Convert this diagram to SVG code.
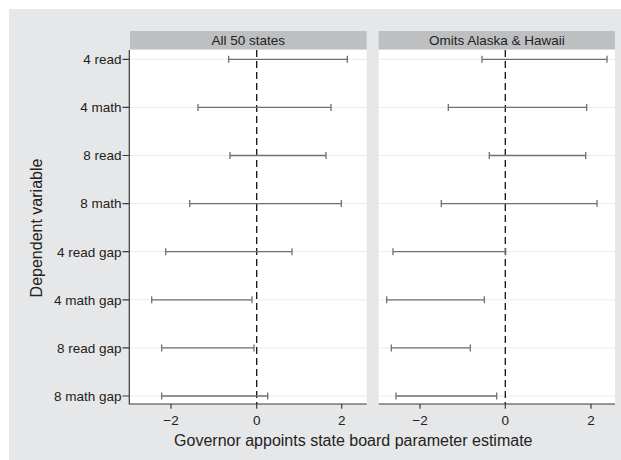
<svg xmlns="http://www.w3.org/2000/svg" width="621" height="460" viewBox="0 0 621 460">
<style>
text{font-family:"Liberation Sans",Arial,sans-serif;fill:#222}
.tl{font-size:13.5px;text-anchor:end}
.xl{font-size:13.5px;text-anchor:middle}
.hd{font-size:13.5px;text-anchor:middle}
.ttl{font-size:16px;text-anchor:middle}
.grid{stroke:#ebebeb;stroke-width:1;fill:none}
.bar{stroke:#707070;stroke-width:1.3;fill:none}
.axis{stroke:#3a3a3a;stroke-width:1.2;fill:none}
.zero{stroke:#111;stroke-width:1.3;stroke-dasharray:7 4;fill:none}
.hdr{fill:#bebfc1}
.plot{fill:#fff}
</style>
<rect x="9" y="9" width="612" height="451" fill="#e6e7e8"/>

<g id="panel-all50">
<rect class="hdr" x="130" y="31" width="236.7" height="18.3"/>
<text class="hd" x="248.3" y="45">All 50 states</text>
<rect class="plot" x="129.3" y="50" width="237.4" height="354"/>
<path class="grid" d="M130 59.3H366.7M130 107.4H366.7M130 155.5H366.7M130 203.6H366.7M130 251.7H366.7M130 299.8H366.7M130 347.9H366.7M130 396H366.7"/>
</g>

<g id="panel-omits">
<rect class="hdr" x="378.7" y="31" width="236.3" height="18.3"/>
<text class="hd" x="496.8" y="45">Omits Alaska &amp; Hawaii</text>
<rect class="plot" x="378.7" y="50" width="236.3" height="354"/>
<path class="grid" d="M378.7 59.3H615M378.7 107.4H615M378.7 155.5H615M378.7 203.6H615M378.7 251.7H615M378.7 299.8H615M378.7 347.9H615M378.7 396H615"/>
</g>

<g id="zero-lines">
<path class="zero" d="M256.7 50V404M505.3 50V404"/>
</g>

<g id="bars-all50">
<path class="bar" d="M228.7 59.3H347.3M228.7 55.8v7M347.3 55.8v7"/>
<path class="bar" d="M198 107.4H331M198 103.9v7M331 103.9v7"/>
<path class="bar" d="M230 155.5H326M230 152v7M326 152v7"/>
<path class="bar" d="M189.7 203.6H341.3M189.7 200.1v7M341.3 200.1v7"/>
<path class="bar" d="M165.7 251.7H292M165.7 248.2v7M292 248.2v7"/>
<path class="bar" d="M151.7 299.8H252M151.7 296.3v7M252 296.3v7"/>
<path class="bar" d="M161.7 347.9H254M161.7 344.4v7M254 344.4v7"/>
<path class="bar" d="M161.7 396H267.7M161.7 392.5v7M267.7 392.5v7"/>
</g>

<g id="bars-omits">
<path class="bar" d="M482 59.3H607M482 55.8v7M607 55.8v7"/>
<path class="bar" d="M448.3 107.4H586.7M448.3 103.9v7M586.7 103.9v7"/>
<path class="bar" d="M489.3 155.5H585.7M489.3 152v7M585.7 152v7"/>
<path class="bar" d="M441.3 203.6H597M441.3 200.1v7M597 200.1v7"/>
<path class="bar" d="M393 251.7H505.7M393 248.2v7M505.7 248.2v7"/>
<path class="bar" d="M386.7 299.8H484.3M386.7 296.3v7M484.3 296.3v7"/>
<path class="bar" d="M391.3 347.9H470.3M391.3 344.4v7M470.3 344.4v7"/>
<path class="bar" d="M396 396H496.7M396 392.5v7M496.7 392.5v7"/>
</g>

<g id="axes">
<path class="axis" d="M129.3 50V404.6M128.7 404H366.7M378.7 404H615"/>
<path class="axis" d="M122.5 59.3H129.3M122.5 107.4H129.3M122.5 155.5H129.3M122.5 203.6H129.3M122.5 251.7H129.3M122.5 299.8H129.3M122.5 347.9H129.3M122.5 396H129.3"/>
<path class="axis" d="M171 404v4.7M256.7 404v4.7M341.7 404v4.7M420 404v4.7M505.3 404v4.7M591 404v4.7"/>
</g>

<g id="y-labels">
<text class="tl" x="121.5" y="64.1">4 read</text>
<text class="tl" x="121.5" y="112.2">4 math</text>
<text class="tl" x="121.5" y="160.3">8 read</text>
<text class="tl" x="121.5" y="208.4">8 math</text>
<text class="tl" x="121.5" y="256.5">4 read gap</text>
<text class="tl" x="121.5" y="304.6">4 math gap</text>
<text class="tl" x="121.5" y="352.7">8 read gap</text>
<text class="tl" x="121.5" y="400.8">8 math gap</text>
</g>

<g id="x-labels">
<text class="xl" x="171" y="425">−2</text>
<text class="xl" x="256.7" y="425">0</text>
<text class="xl" x="341.7" y="425">2</text>
<text class="xl" x="420" y="425">−2</text>
<text class="xl" x="505.3" y="425">0</text>
<text class="xl" x="591" y="425">2</text>
</g>

<g id="titles">
<text class="ttl" x="353.3" y="446">Governor appoints state board parameter estimate</text>
<text class="ttl" transform="translate(41.5 228) rotate(-90)">Dependent variable</text>
</g>
</svg>
